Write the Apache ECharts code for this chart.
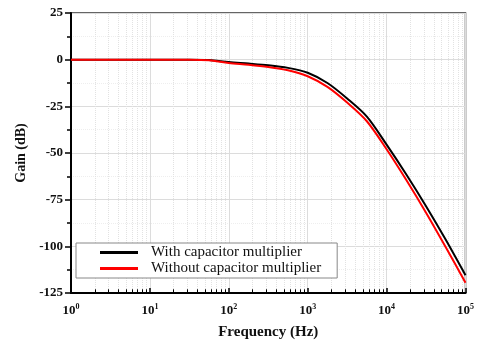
<!DOCTYPE html>
<html>
<head>
<meta charset="utf-8">
<script src="https://cdn.jsdelivr.net/npm/echarts@6/dist/echarts.min.js"></script>
<style>
html,body{margin:0;padding:0;background:#fff;}
#chart{width:477px;height:345px;}
</style>
</head>
<body>
<div id="chart"></div>
<script>
// frequencies (Hz), sampled per quarter decade
var freqs = [1, 10, 31.6, 56.2, 100, 177.8, 316.2, 562.3, 1000, 1778, 3162, 5623, 10000, 17783, 31623, 56234, 100000];
var gainWith = [0, 0, 0, -0.2, -1.3, -2.1, -3.0, -4.4, -7.0, -12.5, -20.8, -30.5, -45.5, -61.5, -78.5, -96.5, -115.5];
var gainWithout = [0, 0, 0, -0.3, -1.8, -2.7, -3.9, -5.7, -8.9, -14.6, -23.0, -33.0, -48.0, -64.5, -82.0, -100.5, -119.5];
var seriesNames = ['With capacitor multiplier', 'Without capacitor multiplier'];
var yTicks = [-125, -100, -75, -50, -25, 0, 25];

function pairs(ys) {
	var out = [];
	for (var i = 0; i < freqs.length; i++) out.push([freqs[i], ys[i]]);
	return out;
}

// minor positions 2..9 x 10^k
var minorX = [];
for (var k = 0; k < 5; k++) {
	for (var m = 2; m <= 9; m++) minorX.push(m * Math.pow(10, k));
}
var minorGrid = minorX.map(function (v) { return {xAxis: v}; });
var minorTicks = minorX.map(function (v) {
	return [{coord: [v, yTicks[0]]}, {coord: [v, yTicks[0] + 2]}];
});

var font = 'Liberation Serif';
var myChart = echarts.init(document.getElementById('chart'));
var option = {
	animation: false,
	backgroundColor: '#fff',
	grid: {left: 71, right: 10, top: 13, bottom: 50, show: true, borderColor: '#333', borderWidth: 1.5},
	legend: {
		data: seriesNames,
		orient: 'vertical',
		left: 76, top: 243, z: 20,
		padding: [2, 16, 2, 24],
		itemGap: 1,
		itemWidth: 38, itemHeight: 3,
		icon: 'rect',
		itemStyle: {borderWidth: 0},
		backgroundColor: '#fff',
		borderColor: '#888', borderWidth: 1,
		textStyle: {fontFamily: font, fontSize: 15, color: '#111', padding: [0, 0, 0, 8]}
	},
	xAxis: {
		type: 'log', logBase: 10, min: 1, max: 100000,
		name: 'Frequency (Hz)', nameLocation: 'middle', nameGap: 32,
		nameTextStyle: {fontFamily: font, fontSize: 15, fontWeight: 'bold', color: '#111'},
		axisLine: {onZero: false, lineStyle: {color: '#000', width: 2}},
		axisTick: {inside: true, length: 5, lineStyle: {color: '#000', width: 1.5}},
		splitLine: {show: true, lineStyle: {color: '#dcdcdc', width: 1}},
		axisLabel: {
			margin: 10,
			formatter: function (v) { return '{b|10}{s|' + Math.round(Math.log10(v)) + '}'; },
			rich: {
				b: {fontFamily: font, fontSize: 13, fontWeight: 'bold', color: '#111'},
				s: {fontFamily: font, fontSize: 8, fontWeight: 'bold', color: '#111', padding: [0, 0, 7, 0]}
			}
		}
	},
	yAxis: {
		type: 'value', min: -125, max: 25, interval: 25,
		name: 'Gain (dB)', nameLocation: 'middle', nameGap: 43,
		nameTextStyle: {fontFamily: font, fontSize: 14, fontWeight: 'bold', color: '#111'},
		axisLine: {onZero: false, lineStyle: {color: '#000', width: 2}},
		axisTick: {length: 6, lineStyle: {color: '#000', width: 1.5}},
		minorTick: {show: true, splitNumber: 2, length: 4, lineStyle: {color: '#000', width: 1.5}},
		splitLine: {show: true, lineStyle: {color: '#dcdcdc', width: 1}},
		minorSplitLine: {show: true, lineStyle: {color: '#eeeeee', type: 'dotted'}},
		axisLabel: {fontFamily: font, fontSize: 13, fontWeight: 'bold', color: '#111', margin: 8}
	},
	series: [
		{
			// minor vertical grid + bottom minor ticks, kept under the curves
			name: 'minor', type: 'line', data: [], z: 1, silent: true,
			markLine: {
				silent: true, symbol: 'none', label: {show: false}, z: 1,
				lineStyle: {color: '#e2e2e2', type: 'dotted', width: 1},
				data: minorGrid
			}
		},
		{
			name: seriesNames[0], type: 'line', data: pairs(gainWith), z: 3,
			smooth: 0.3, showSymbol: false,
			lineStyle: {color: '#000', width: 2}, itemStyle: {color: '#000'},
			markLine: {
				silent: true, symbol: 'none', label: {show: false}, z: 2,
				lineStyle: {color: '#000', type: 'solid', width: 1},
				data: minorTicks
			}
		},
		{
			name: seriesNames[1], type: 'line', data: pairs(gainWithout), z: 4,
			smooth: 0.3, showSymbol: false,
			lineStyle: {color: '#ff0000', width: 2}, itemStyle: {color: '#ff0000'}
		}
	]
};
myChart.setOption(option, true);
</script>
</body>
</html>
